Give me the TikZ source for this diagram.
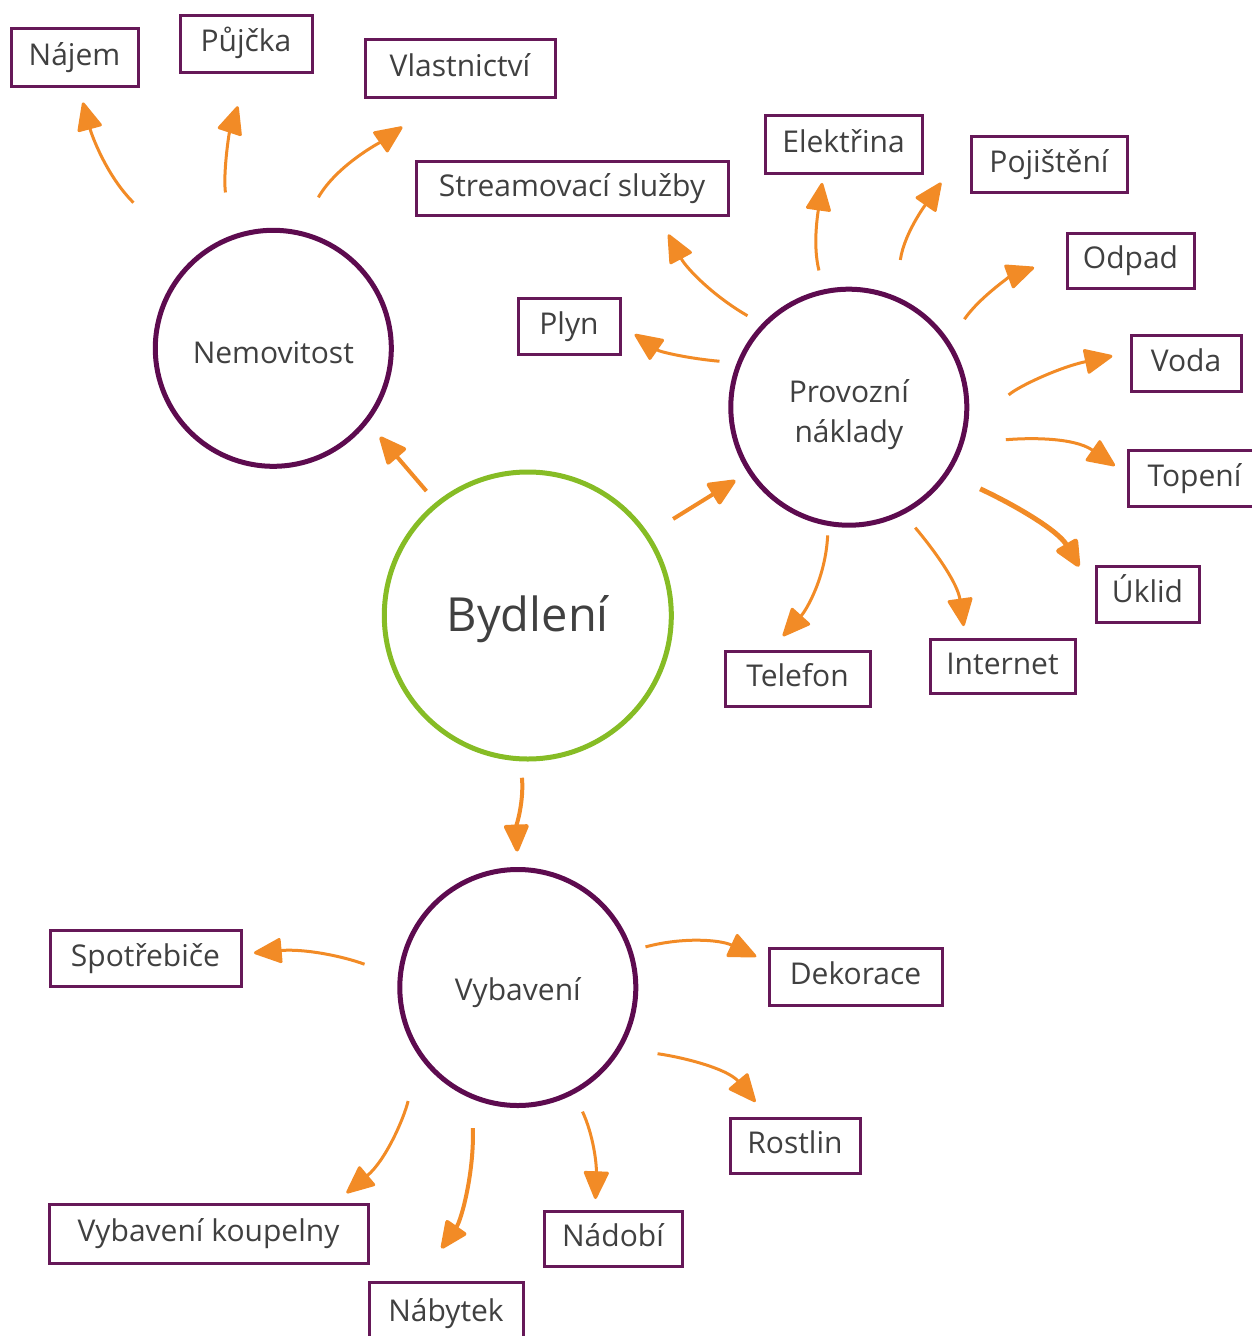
\documentclass[tikz,border=0pt]{standalone}
\usepackage{fontspec}
\setmainfont{Open Sans}
\usepackage{tikz}
\usetikzlibrary{arrows.meta}

\definecolor{hubpurple}{HTML}{5D0B4F}
\definecolor{boxpurple}{HTML}{661858}
\definecolor{leafgreen}{HTML}{86BC25}
\definecolor{floworange}{HTML}{F28B26}
\definecolor{labelgray}{HTML}{404040}

\begin{document}
\begin{tikzpicture}[x=1pt, y=1pt,
    hub/.style={circle, draw=hubpurple, line width=5pt, minimum size=236pt, inner sep=0pt, outer sep=0pt,
        text=labelgray, align=center, text depth=0pt, font=\fontsize{30}{40}\selectfont},
    mainhub/.style={hub, draw=leafgreen, minimum size=287pt, font=\fontsize{47}{56}\selectfont},
    item/.style={rectangle, draw=boxpurple, line width=3pt, inner sep=0pt, outer sep=0pt,
        text=labelgray, text height=22pt, text depth=6pt, font=\fontsize{30}{36}\selectfont},
    flow/.style={draw=floworange, line width=3pt, -{Triangle[length=30pt, width=26pt, round]}}
    ]
        \useasboundingbox (0,0) rectangle (1252,-1336);

        %Nodes
        \node[mainhub, text height=31pt]
            (byd) at (527.8,-615.5)    {Bydlení};
        \node[hub, text height=31pt]
            (nem) at (273.3,-348.3)    {Nemovitost};
        \node[hub, text height=70pt]
            (prov) at (848.8,-407.2)   {Provozní\\náklady};
        \node[hub, text height=25pt]
            (vyb) at (517.8,-987.5)    {Vybavení};

        %Boxes
        \node[item, minimum width=127pt, minimum height=58pt]
            (najem) at (74.5,-57)      {Nájem};
        \node[item, minimum width=132pt, minimum height=57pt]
            (pujcka) at (246,-43.5)    {Půjčka};
        \node[item, minimum width=190pt, minimum height=58pt]
            (vlast) at (460,-68)       {Vlastnictví};
        \node[item, minimum width=312pt, minimum height=54pt]
            (stream) at (572,-188)     {Streamovací služby};
        \node[item, minimum width=157pt, minimum height=58pt]
            (elek) at (843.5,-144)     {Elektřina};
        \node[item, minimum width=156pt, minimum height=56pt]
            (poj) at (1049,-164)       {Pojištění};
        \node[item, minimum width=127pt, minimum height=55pt]
            (odpad) at (1130.5,-260.5) {Odpad};
        \node[item, minimum width=102pt, minimum height=56pt]
            (plyn) at (569,-326)       {Plyn};
        \node[item, minimum width=110pt, minimum height=56pt]
            (voda) at (1186,-363)      {Voda};
        \node[item, minimum width=133pt, minimum height=56pt]
            (topeni) at (1194.5,-478)  {Topení};
        \node[item, minimum width=103pt, minimum height=56pt]
            (uklid) at (1147.5,-594)   {Úklid};
        \node[item, minimum width=145pt, minimum height=54pt]
            (internet) at (1002.5,-666) {Internet};
        \node[item, minimum width=145pt, minimum height=55pt]
            (telefon) at (797.5,-678.5) {Telefon};
        \node[item, minimum width=191pt, minimum height=56pt]
            (spotr) at (145.5,-958)    {Spotřebiče};
        \node[item, minimum width=173pt, minimum height=57pt]
            (dekor) at (855.5,-976.5)  {Dekorace};
        \node[item, minimum width=130pt, minimum height=55pt]
            (rostlin) at (795,-1145.5) {Rostlin};
        \node[item, minimum width=319pt, minimum height=59pt]
            (koup) at (208.5,-1233.5)  {Vybavení koupelny};
        \node[item, minimum width=154pt, minimum height=63pt]
            (nabytek) at (446,-1313.5) {Nábytek};
        \node[item, minimum width=138pt, minimum height=55pt]
            (nadobi) at (613,-1238.5)  {Nádobí};

        %Lines
        \draw[flow, line width=4pt, shorten <=17pt, shorten >=21pt]
            (byd.129) -- (nem.-38);
        \draw[flow, line width=4pt, shorten <=31pt, shorten >=17pt]
            (byd.34) -- (prov.213);
        \draw[flow, line width=4pt, shorten <=19pt, shorten >=18pt]
            (byd.-93) to[out=-85, in=92] (vyb.north);

        \draw[flow, shorten <=84pt, shorten >=17pt]
            (nem.133) to[out=135, in=-75, out looseness=1.5, in looseness=0.6] ([xshift=4pt]najem.south);
        \draw[flow, shorten <=46pt, shorten >=36pt]
            (nem.111) to[out=97, in=-108] ([xshift=3pt]pujcka.south);
        \draw[flow, shorten <=41pt, shorten >=52pt]
            (nem.78) to[out=60, in=215] ([xshift=-15pt]vlast.south);

        \draw[flow, shorten <=19pt, shorten >=22pt]
            (prov.136) to[out=150, in=-62] ([xshift=86pt]stream.south);
        \draw[flow, shorten <=20pt, shorten >=18pt]
            (prov.158) to[out=175, in=-35] ([yshift=2pt]plyn.east);
        \draw[flow, shorten <=22pt, shorten >=10pt]
            (prov.102) to[out=104, in=-98] ([xshift=-20pt]elek.south);
        \draw[flow, shorten <=39pt, shorten >=52pt]
            (prov.67) to[out=82, in=235] ([yshift=24pt]poj.west);
        \draw[flow, shorten <=29pt, shorten >=35pt]
            (prov.33) to[out=55, in=200] ([yshift=5pt]odpad.west);
        \draw[flow, shorten <=61pt, shorten >=19pt]
            (prov.-14) to[out=42, in=192] ([yshift=11pt]voda.west);
        \draw[flow, shorten <=45pt, shorten >=16pt]
            (prov.-18) to[out=5, in=145] ([yshift=3pt]topeni.west);
        \draw[flow, line width=5pt, shorten <=37pt, shorten >=34pt]
            (prov.-34) to[out=-25, in=120] ([yshift=-2pt]uklid.west);
        \draw[flow, shorten <=20pt, shorten >=13pt]
            (prov.-63) to[out=-50, in=98] ([xshift=-37pt]internet.north);
        \draw[flow, shorten <=12pt, shorten >=20pt]
            (prov.-100) to[out=-93, in=48] ([xshift=-28pt]telefon.north);

        \draw[flow, shorten <=38pt, shorten >=13pt]
            (vyb.175) to[out=160, in=5] ([yshift=4pt]spotr.east);
        \draw[flow, shorten <=16pt, shorten >=14pt]
            (vyb.18) to[out=15, in=155] ([yshift=14pt]dekor.west);
        \draw[flow, shorten <=39pt, shorten >=21pt]
            (vyb.-31) to[out=-8, in=130] ([xshift=-26pt]rostlin.north);
        \draw[flow, shorten <=49pt, shorten >=17pt]
            (vyb.-146) to[out=-104, in=40] ([xshift=125pt]koup.north);
        \draw[flow, line width=4pt, shorten <=32pt, shorten >=41pt]
            (vyb.-113) to[out=-88, in=55] ([xshift=-28pt]nabytek.north);
        \draw[flow, shorten <=22pt, shorten >=12pt]
            (vyb.-62) to[out=-65, in=88] ([xshift=-18pt]nadobi.north);
    \end{tikzpicture}
\end{document}
